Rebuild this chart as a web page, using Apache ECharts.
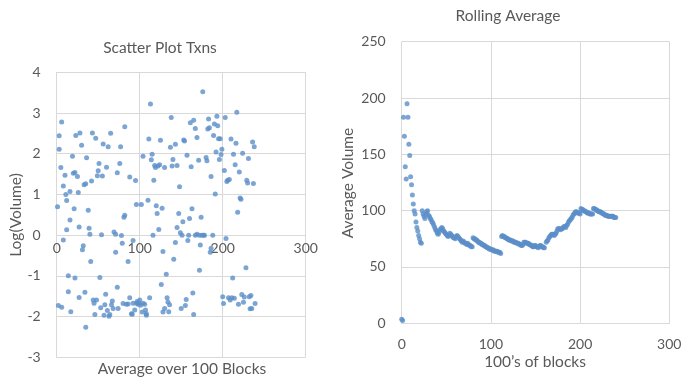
<!DOCTYPE html>
<html><head><meta charset="utf-8">
<script src="https://cdn.jsdelivr.net/npm/echarts@6/dist/echarts.min.js"></script>
<style>html,body{margin:0;padding:0;background:#fff}#c{width:690px;height:388px}</style>
</head><body><div id="c"></div>
<script>
// Left chart: Scatter Plot Txns
const scatterX = [1,3,3,5,2,6,6,8,8,10,11,12,12,14,14,16,16,17,19,20,21,22,22,23,25,26,27,27,28,30,31,32,33,34,35,35,36,38,39,40,41,42,43,44,45,46,47,48,49,50,51,52,53,54,55,56,57,58,59,60,61,62,63,64,65,66,67,68,69,71,71,73,73,74,76,77,78,79,80,81,82,82,84,86,86,88,88,90,91,92,92,94,95,96,96,97,98,99,100,101,102,103,104,104,106,107,108,108,110,111,112,113,114,115,116,117,118,119,120,121,122,123,124,125,126,127,128,128,130,130,132,133,134,135,136,137,138,139,140,141,143,143,145,145,147,148,149,150,151,152,153,154,155,156,157,158,159,160,161,162,163,164,165,165,167,167,169,169,171,172,172,173,174,175,176,177,178,180,181,182,183,184,185,186,186,188,189,190,191,192,193,194,195,196,197,198,199,200,201,202,203,204,205,206,207,208,209,210,211,212,213,214,215,216,217,218,219,220,221,222,223,224,225,226,228,229,230,231,232,233,234,235,236,237,238,239];
const scatterY = [0.70,2.44,2.11,1.66,-1.73,2.78,-1.77,-0.12,1.21,1.47,1.00,0.85,0.13,-1.39,-1.00,1.07,0.37,-1.88,1.94,1.52,0.65,-1.05,1.54,2.45,1.44,1.05,0.20,-1.53,2.51,2.21,-0.36,-0.26,1.24,-1.40,-2.26,1.26,1.90,0.61,0.17,0.02,-0.65,1.33,2.51,-1.59,-1.67,-1.95,2.38,-1.59,1.46,1.58,1.76,-1.04,-1.78,0.01,1.45,2.24,-1.97,-1.71,-1.45,1.67,-1.85,2.17,-1.99,-1.95,2.50,-1.71,-1.62,-1.80,0.08,-0.42,0.02,-1.28,1.53,-1.80,1.76,2.17,-0.01,-0.20,-1.68,0.44,0.49,2.66,-1.70,-0.65,-1.69,1.43,-1.54,-1.93,-1.94,-0.13,-1.67,-1.84,1.34,0.75,-1.67,-1.63,-1.70,-1.67,-1.59,-1.72,0.75,-1.89,1.94,-1.67,-1.70,-1.84,-1.93,-1.97,0.86,2.36,-1.54,3.22,1.85,1.99,0.00,1.35,1.71,1.66,0.72,0.53,1.70,0.14,1.73,2.33,-1.21,0.66,-0.40,-1.89,1.66,-1.80,-0.96,-1.54,-1.64,-1.88,-1.71,2.16,2.89,1.70,1.86,-0.59,-0.18,2.23,0.19,1.71,0.53,1.19,0.06,-1.80,0.00,0.33,2.34,2.31,-1.73,-1.58,1.96,-0.13,0.00,0.41,2.76,1.68,0.65,-1.42,2.82,-1.95,0.00,2.62,2.40,0.02,1.84,-0.86,0.00,-0.24,0.44,0.00,3.52,0.00,0.00,1.91,1.83,2.61,2.85,2.64,-0.42,1.44,-0.32,0.00,2.45,2.73,1.01,2.04,2.92,2.69,2.37,1.86,2.37,1.98,2.11,-1.51,-1.68,1.59,2.89,-0.08,1.32,1.35,-1.54,1.37,-1.59,2.36,-1.54,-1.05,1.99,-1.55,1.73,2.26,3.02,0.56,-1.70,1.55,0.91,0.88,-1.46,2.01,-1.65,-1.52,-0.80,1.35,1.28,1.88,-1.51,-1.81,-1.48,-1.80,2.29,1.27,2.17,-1.68];

// Right chart: Rolling Average (one value per 100 blocks, x = 0..240)
const rollingY = [3.5,2.5,183,166,139,128,195,183,159,149,130,123,114,106,100,97,90,85,82,78,75,72,71,
100,97,95,93,97,99,100,96,95,93,92,90,89,87,85,83,82,80,79,81,83,84,85,84,82,81,80,79,78,77,78,80,79,78,77,76,76,75,77,78,77,76,75,74,73,72,73,72,71,71,70,71,70,69,69,68,68,
76,75,75,74,74,73,72,72,71,71,70,70,69,69,68,68,67,67,66,66,66,65,65,65,64,64,64,64,63,63,63,62,
77,78,77,77,76,76,75,75,74,74,74,73,73,73,72,72,72,71,71,71,70,70,69,69,70,72,72,72,71,71,71,70,70,69,69,68,68,69,69,68,68,67,68,69,69,68,68,67,67,
null,72,73,74,76,77,78,79,79,79,78,79,80,82,84,84,84,83,84,84,85,86,86,85,87,88,90,91,92,93,94,96,97,98,99,99,98,98,98,97,
102,101,101,100,100,99,99,98,98,98,97,97,97,97,102,102,101,101,100,100,99,99,99,98,98,97,97,96,96,96,95,95,95,95,95,95,95,94,94,94];

const xTicks = [0,100,200,300];
const leftYTicks = [-3,-2,-1,0,1,2,3,4];
const rightYTicks = [0,50,100,150,200,250];

const FONT = 'Lato';
const TXT = '#595959';
const GRIDC = '#d9d9d9';
const DOT = '#5b8ec8';

const leftData = scatterX.map((x,i)=>[x, scatterY[i]]);
const rightData = [];
rollingY.forEach((v,i)=>{ if (v !== null) rightData.push([i, v]); });

// left plot geometry: y from -3 (bottom) to 4 (top), x-axis drawn at y = 0
const LTOP = 72.3, LBOT = 357.3;
const zeroOffset = -(LBOT - LTOP) * (0 - leftYTicks[0]) / (leftYTicks[leftYTicks.length-1] - leftYTicks[0]);

const chart = echarts.init(document.getElementById('c'), null, {renderer:'canvas'});
chart.setOption({
  animation:false,
  textStyle:{fontFamily:FONT},
  grid:[
    {left:56.7, top:LTOP, right:384.3, bottom:388-LBOT},
    {left:401.7, top:41.7, right:20.7, bottom:64.7}
  ],
  xAxis:[
    {gridIndex:0, type:'value', min:xTicks[0], max:xTicks[xTicks.length-1], interval:100,
     offset:zeroOffset,
     axisLine:{show:true, onZero:false, lineStyle:{color:GRIDC}}, axisTick:{show:false},
     axisLabel:{color:TXT, fontSize:14, fontFamily:FONT, margin:6},
     splitLine:{show:true, lineStyle:{color:GRIDC}}},
    {gridIndex:1, type:'value', min:xTicks[0], max:xTicks[xTicks.length-1], interval:100,
     axisLine:{show:true, lineStyle:{color:GRIDC}}, axisTick:{show:false},
     axisLabel:{color:TXT, fontSize:14, fontFamily:FONT, margin:14},
     splitLine:{show:true, lineStyle:{color:GRIDC}}}
  ],
  yAxis:[
    {gridIndex:0, type:'value', min:leftYTicks[0], max:leftYTicks[leftYTicks.length-1], interval:1,
     axisLine:{show:true, onZero:false, lineStyle:{color:GRIDC}}, axisTick:{show:false},
     axisLabel:{color:TXT, fontSize:14, fontFamily:FONT, margin:16},
     splitLine:{show:true, lineStyle:{color:GRIDC}}},
    {gridIndex:1, type:'value', min:rightYTicks[0], max:rightYTicks[rightYTicks.length-1], interval:50,
     axisLine:{show:false}, axisTick:{show:false},
     axisLabel:{color:TXT, fontSize:14, fontFamily:FONT, margin:16},
     splitLine:{show:true, lineStyle:{color:GRIDC}}}
  ],
  series:[
    {type:'scatter', xAxisIndex:0, yAxisIndex:0, data:leftData, symbolSize:5, itemStyle:{color:DOT}},
    {type:'scatter', xAxisIndex:1, yAxisIndex:1, data:rightData, symbolSize:5, itemStyle:{color:DOT}}
  ],
  graphic:[
    {type:'text', x:160, y:48, style:{text:'Scatter Plot Txns', font:'15.5px '+FONT, fill:TXT, textAlign:'center', textVerticalAlign:'middle'}},
    {type:'text', x:182, y:369, style:{text:'Average over 100 Blocks', font:'15.5px '+FONT, fill:TXT, textAlign:'center', textVerticalAlign:'middle'}},
    {type:'text', x:16, y:215, rotation:Math.PI/2, style:{text:'Log(Volume)', font:'15.5px '+FONT, fill:TXT, textAlign:'center', textVerticalAlign:'middle'}},
    {type:'text', x:508, y:16, style:{text:'Rolling Average', font:'15.5px '+FONT, fill:TXT, textAlign:'center', textVerticalAlign:'middle'}},
    {type:'text', x:535, y:362, style:{text:'100\u2019s of blocks', font:'15.5px '+FONT, fill:TXT, textAlign:'center', textVerticalAlign:'middle'}},
    {type:'text', x:348, y:183, rotation:Math.PI/2, style:{text:'Average Volume', font:'15.5px '+FONT, fill:TXT, textAlign:'center', textVerticalAlign:'middle'}}
  ]
});
</script></body></html>
